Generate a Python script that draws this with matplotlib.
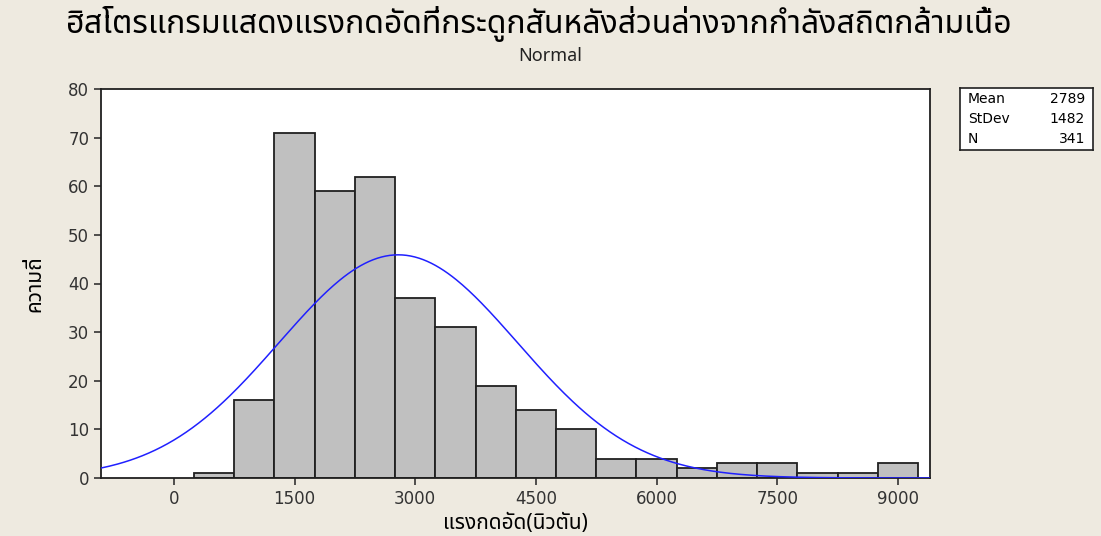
import numpy as np
import matplotlib
matplotlib.use("Agg")
import matplotlib.pyplot as plt
from matplotlib import font_manager

# histogram data (bin centers, width 500)
bin_centers = [500, 1000, 1500, 2000, 2500, 3000, 3500, 4000, 4500, 5000,
               5500, 6000, 6500, 7000, 7500, 8000, 8500, 9000]
counts = [1, 16, 71, 59, 62, 37, 31, 19, 14, 10, 4, 4, 2, 3, 3, 1, 1, 3]
bin_width = 500
mean = 2789
stdev = 1482
n_obs = 341
x_ticks = [0, 1500, 3000, 4500, 6000, 7500, 9000]
y_ticks = [0, 10, 20, 30, 40, 50, 60, 70, 80]

title = "ฮิสโตรแกรมแสดงแรงกดอัดที่กระดูกสันหลังส่วนล่างจากกำลังสถิตกล้ามเนื้อ"
subtitle = "Normal"
xlabel = "แรงกดอัด(นิวตัน)"
ylabel = "ความถี่"

installed = {f.name for f in font_manager.fontManager.ttflist}
fams = [f for f in ["Noto Sans Thai", "Noto Sans Thai UI", "Loma", "Garuda",
                    "Tlwg Typo", "Norasi", "FreeSans"] if f in installed]
fams = fams + ["DejaVu Sans"]
plt.rcParams['font.family'] = fams

bg = "#EEEAE0"
fig = plt.figure(figsize=(11.01, 5.36), dpi=100, facecolor=bg)
ax = fig.add_axes([101 / 1101, 1 - 478 / 536, (930 - 101) / 1101, (478 - 89) / 536])
ax.set_facecolor("white")

ax.bar(bin_centers, counts, width=bin_width, color="#C0C0C0",
       edgecolor="#202020", linewidth=1.3, zorder=2)

xs = np.linspace(-907, 9400, 400)
ys = n_obs * bin_width / (stdev * np.sqrt(2 * np.pi)) * np.exp(-0.5 * ((xs - mean) / stdev) ** 2)
ax.plot(xs, ys, color="#2020FF", linewidth=1.1, zorder=3)

ax.set_xlim(-907, 9400)
ax.set_ylim(0, 80)
ax.set_xticks(x_ticks)
ax.set_yticks(y_ticks)
ax.tick_params(labelsize=12, colors="#333333", length=5, width=1.2,
               labelfontfamily="DejaVu Sans")
for sp in ax.spines.values():
    sp.set_color("#202020")
    sp.set_linewidth(1.3)

ax.set_xlabel(xlabel, fontsize=15, fontweight="bold", labelpad=4)
ax.set_ylabel(ylabel, fontsize=15, fontweight="bold", labelpad=16)

fig.text(0.49, 0.955, title, ha="center", va="center", fontsize=23, fontweight="bold")
fig.text(0.5, 0.895, subtitle, ha="center", va="center", fontsize=13, color="#222222")

# stats box
box = fig.add_axes([960 / 1101, 1 - 150 / 536, 133 / 1101, 62 / 536])
box.set_xticks([])
box.set_yticks([])
box.set_facecolor("white")
for sp in box.spines.values():
    sp.set_color("#202020")
    sp.set_linewidth(1.2)
rows = [("Mean", str(mean)), ("StDev", str(stdev)), ("N", str(n_obs))]
for i, (k, v) in enumerate(rows):
    yy = 0.82 - i * 0.32
    box.text(0.06, yy, k, fontsize=10, va="center", ha="left", family="DejaVu Sans",
             transform=box.transAxes)
    box.text(0.94, yy, v, fontsize=10, va="center", ha="right", family="DejaVu Sans",
             transform=box.transAxes)

fig.savefig("out.png", dpi=100, facecolor=bg)
